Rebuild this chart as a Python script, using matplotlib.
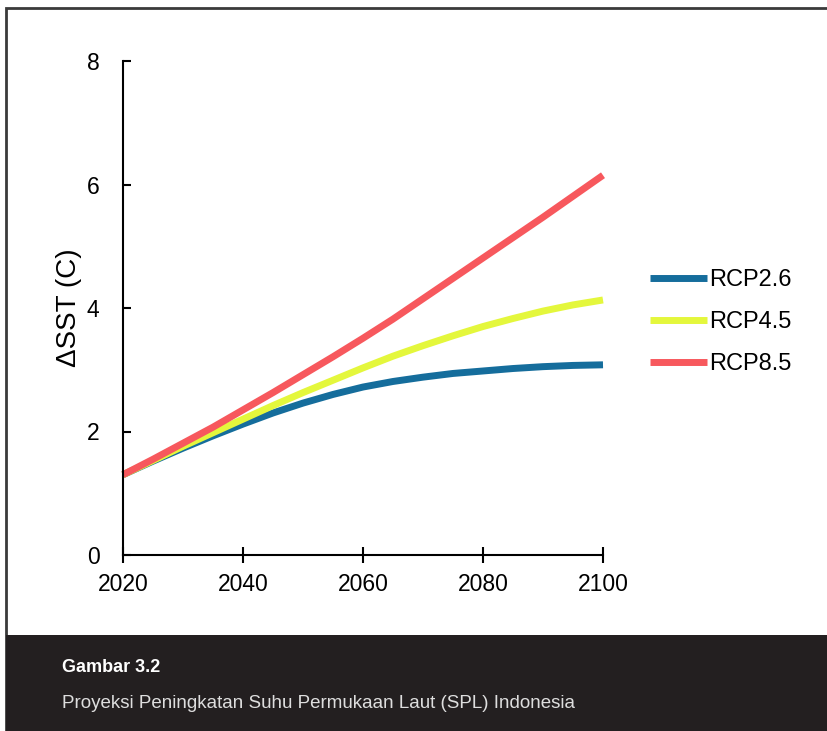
import numpy as np
import matplotlib.pyplot as plt
from matplotlib.patches import Rectangle

plt.rcParams['font.family'] = ['Liberation Sans', 'DejaVu Sans']

tahun = [2020, 2025, 2030, 2035, 2040, 2045, 2050, 2055, 2060,
         2065, 2070, 2075, 2080, 2085, 2090, 2095, 2100]
rcp26 = [1.30, 1.52, 1.73, 1.93, 2.12, 2.30, 2.46, 2.60, 2.72,
         2.81, 2.88, 2.94, 2.98, 3.02, 3.05, 3.07, 3.08]
rcp45 = [1.30, 1.53, 1.76, 1.98, 2.20, 2.42, 2.63, 2.83, 3.03,
         3.22, 3.39, 3.55, 3.70, 3.83, 3.95, 4.05, 4.13]
rcp85 = [1.30, 1.55, 1.81, 2.07, 2.35, 2.63, 2.92, 3.21, 3.51,
         3.82, 4.15, 4.48, 4.81, 5.14, 5.47, 5.81, 6.15]
xticks = [2020, 2040, 2060, 2080, 2100]
yticks = [0, 2, 4, 6, 8]

fig = plt.figure(figsize=(8.28, 7.31), dpi=100)

# bingkai dan pita keterangan
fig.patches.append(Rectangle((6/828, 0), 1, 1 - 8/731, transform=fig.transFigure,
                             fill=False, edgecolor='#3a3a3a', linewidth=2))
fig.patches.append(Rectangle((6/828, 0), 1, 96/731, transform=fig.transFigure,
                             facecolor='#231f20', edgecolor='none'))
fig.text(62/828, 1 - 667/731, 'Gambar 3.2', color='white', fontsize=13,
         fontweight='bold', va='center')
fig.text(62/828, 1 - 703/731, 'Proyeksi Peningkatan Suhu Permukaan Laut (SPL) Indonesia',
         color='#dedede', fontsize=13.5, va='center')

ax = fig.add_axes([123/828, 1 - 555/731, 480/828, 494/731])
ax.plot(tahun, rcp26, color='#156d9c', lw=5, solid_capstyle='butt', clip_on=False, label='RCP2.6')
ax.plot(tahun, rcp45, color='#e4f73c', lw=5, solid_capstyle='butt', clip_on=False, label='RCP4.5')
ax.plot(tahun, rcp85, color='#f7585d', lw=5, solid_capstyle='butt', clip_on=False, label='RCP8.5')

ax.set_xlim(2020, 2100)
ax.set_ylim(0, 8)
ax.set_xticks(xticks)
ax.set_yticks(yticks)
ax.spines['top'].set_visible(False)
ax.spines['right'].set_visible(False)
ax.spines['left'].set_linewidth(1.5)
ax.spines['bottom'].set_linewidth(1.5)
ax.tick_params(axis='y', direction='in', length=6, width=1.5, labelsize=16.5, pad=17)
ax.tick_params(axis='x', direction='inout', length=12, width=1.5, labelsize=16.5, pad=7)
ax.set_ylabel('ΔSST (C)', fontsize=20, labelpad=3)

fig.legend(handles=ax.get_lines(), loc='center left', bbox_to_anchor=(650/828, 1 - 322/731),
           frameon=False, fontsize=17, handlelength=2.4, handletextpad=0.12,
           labelspacing=0.85, borderpad=0, borderaxespad=0)

fig.savefig('out.png', dpi=100)
